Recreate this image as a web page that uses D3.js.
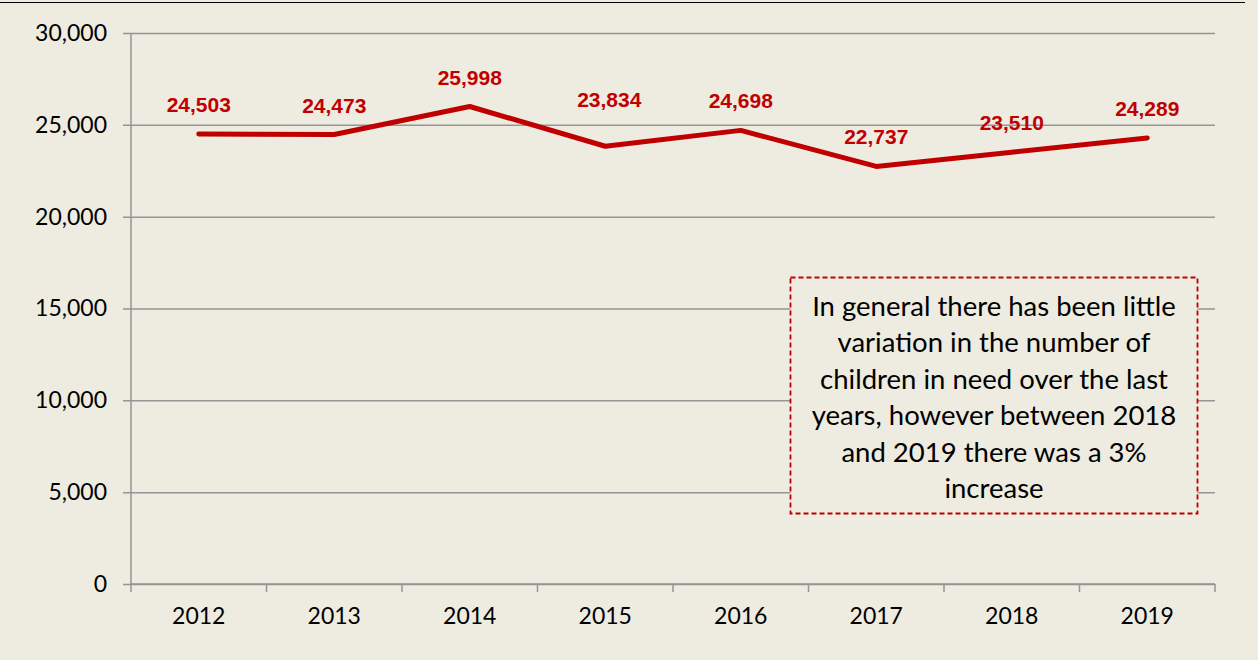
<!DOCTYPE html>
<html>
<head>
<meta charset="utf-8">
<script src="https://cdn.jsdelivr.net/npm/d3@7"></script>
<style>
  body { margin: 0; background: #EEEBE0; }
  svg { display: block; }
</style>
</head>
<body>
<div id="chart"></div>
<script>
// <-- ************ DATA ************ -->
const YEARS = ["2012", "2013", "2014", "2015", "2016", "2017", "2018", "2019"];
const CHILDREN = [24503, 24473, 25998, 23834, 24698, 22737, 23510, 24289];
const Y_TICKS = [0, 5000, 10000, 15000, 20000, 25000, 30000];
const NOTE_LINES = [
  "In general there has been little",
  "variation in the number of",
  "children in need over the last",
  "years, however between 2018",
  "and 2019 there was a 3%",
  "increase"
];

// <-- ************ FRAME ************ -->
const FRAME_WIDTH = 1258;
const FRAME_HEIGHT = 660;
const MARGINS = {left: 131, right: 43, top: 33, bottom: 76};
const GRAPH_WIDTH = FRAME_WIDTH - MARGINS.left - MARGINS.right;
const GRAPH_HEIGHT = FRAME_HEIGHT - MARGINS.top - MARGINS.bottom;

const RED = "#C00000";
const GRID = "#959595";
// the 2015 label sits higher than the others in the original
const LABEL_NUDGE = {"2015": -17};

const SVG = d3.select("#chart")
  .append("svg")
  .attr("width", FRAME_WIDTH)
  .attr("height", FRAME_HEIGHT);

SVG.append("rect")
  .attr("width", FRAME_WIDTH)
  .attr("height", FRAME_HEIGHT)
  .attr("fill", "#EEEBE0");

// top border line
SVG.append("line")
  .attr("x1", 0).attr("x2", 1245)
  .attr("y1", 2.5).attr("y2", 2.5)
  .attr("stroke", "#000").attr("stroke-width", 1);

// scales
const X_SCALE = d3.scaleBand()
  .domain(YEARS)
  .range([0, GRAPH_WIDTH]);

const Y_SCALE = d3.scaleLinear()
  .domain([0, 30000])
  .range([GRAPH_HEIGHT, 0]);

const G = SVG.append("g")
  .attr("transform", "translate(" + MARGINS.left + "," + MARGINS.top + ")");

// gridlines + y axis
const yAxis = G.append("g")
  .call(d3.axisLeft(Y_SCALE)
    .tickValues(Y_TICKS)
    .tickSize(8)
    .tickPadding(16)
    .tickFormat(d3.format(",")));
yAxis.select(".domain").remove();
yAxis.selectAll(".tick line")
  .attr("x2", GRAPH_WIDTH)
  .attr("x1", -8)
  .attr("stroke", GRID)
  .attr("stroke-width", 1.5);
yAxis.selectAll(".tick text")
  .attr("font-family", "Lato, 'Open Sans', sans-serif")
  .attr("font-size", "23px")
  .attr("fill", "#000");

// vertical axis line
G.append("line")
  .attr("x1", 0).attr("x2", 0)
  .attr("y1", 0).attr("y2", GRAPH_HEIGHT + 8)
  .attr("stroke", GRID).attr("stroke-width", 1.5);

// x axis
const xAxis = G.append("g")
  .attr("transform", "translate(0," + GRAPH_HEIGHT + ")")
  .call(d3.axisBottom(X_SCALE).tickSize(0).tickPadding(24));
xAxis.select(".domain").remove();
xAxis.selectAll(".tick text")
  .attr("font-family", "Lato, 'Open Sans', sans-serif")
  .attr("font-size", "23px")
  .attr("fill", "#000");

G.append("line")
  .attr("x1", 0).attr("x2", GRAPH_WIDTH)
  .attr("y1", GRAPH_HEIGHT).attr("y2", GRAPH_HEIGHT)
  .attr("stroke", GRID).attr("stroke-width", 1.5);

// tick marks between categories
G.append("g")
  .selectAll("line")
  .data(YEARS.slice(1).concat(["end"]))
  .enter()
  .append("line")
  .attr("x1", (d) => { return d === "end" ? GRAPH_WIDTH : X_SCALE(d); })
  .attr("x2", (d) => { return d === "end" ? GRAPH_WIDTH : X_SCALE(d); })
  .attr("y1", GRAPH_HEIGHT)
  .attr("y2", GRAPH_HEIGHT + 8)
  .attr("stroke", GRID)
  .attr("stroke-width", 1.5);

// line
const pts = YEARS.map((y, i) => { return {year: y, value: CHILDREN[i]}; });
const cx = (d) => { return X_SCALE(d.year) + X_SCALE.bandwidth() / 2; };

G.append("path")
  .datum(pts)
  .attr("fill", "none")
  .attr("stroke", RED)
  .attr("stroke-width", 5)
  .attr("stroke-linecap", "round")
  .attr("stroke-linejoin", "round")
  .attr("d", d3.line()
    .x(cx)
    .y((d) => { return Y_SCALE(d.value); }));

// data labels
G.append("g")
  .selectAll("text")
  .data(pts)
  .enter()
  .append("text")
  .attr("x", (d) => { return cx(d) + (d.year === "2015" ? 4 : 0); })
  .attr("y", (d) => { return Y_SCALE(d.value) - 22 + (LABEL_NUDGE[d.year] || 0); })
  .attr("text-anchor", "middle")
  .attr("font-family", "'Liberation Sans', Arial, sans-serif")
  .attr("font-weight", "bold")
  .attr("font-size", "21px")
  .attr("fill", RED)
  .text((d) => { return d3.format(",")(d.value); });

// annotation box
const NOTE = SVG.append("g");
NOTE.append("rect")
  .attr("x", 790.5).attr("y", 277.5)
  .attr("width", 407).attr("height", 236)
  .attr("fill", "#EEEBE0")
  .attr("stroke", RED)
  .attr("stroke-width", 1.8)
  .attr("stroke-dasharray", "5,3");

NOTE.selectAll("text")
  .data(NOTE_LINES)
  .enter()
  .append("text")
  .attr("x", 994)
  .attr("y", (d, i) => { return 316 + i * 36.4; })
  .attr("text-anchor", "middle")
  .attr("font-family", "Lato, 'Open Sans', sans-serif")
  .attr("font-size", "27.5px")
  .attr("fill", "#000")
  .text((d) => { return d; });
</script>
</body>
</html>
